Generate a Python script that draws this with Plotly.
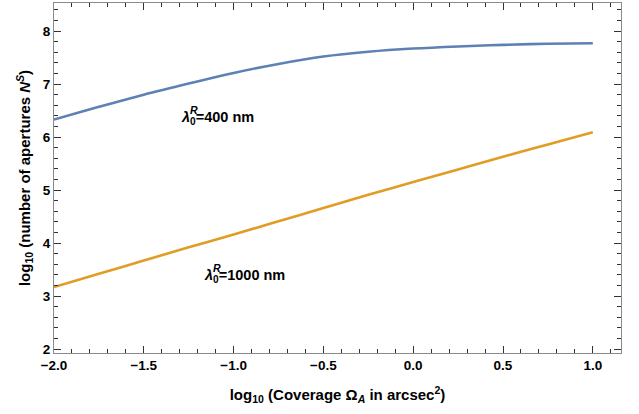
import plotly.graph_objects as go

# Data
x_vals = [-2.0, -1.75, -1.5, -1.25, -1.0, -0.75, -0.5, -0.25, 0.0, 0.25, 0.5, 0.75, 1.0]
y_400 = [6.33, 6.57, 6.80, 7.01, 7.21, 7.38, 7.52, 7.61, 7.67, 7.71, 7.74, 7.76, 7.77]
y_1000 = [3.17, 3.42, 3.67, 3.92, 4.16, 4.41, 4.66, 4.91, 5.15, 5.39, 5.63, 5.86, 6.09]

label_400 = ("λ", "=400 nm", -2 + (179 - 54) / 179.6, 6.36)
label_1000 = ("λ", "=1000 nm", -2 + (202 - 54) / 179.6, 3.37)

BLUE = "#5E81B5"
ORANGE = "#E19C24"
FONT = "Liberation Sans, Arial, sans-serif"

fig = go.Figure()
fig.add_trace(go.Scatter(x=x_vals, y=y_400, mode="lines",
                         line=dict(color=BLUE, width=2.6, shape="spline"),
                         showlegend=False, hoverinfo="skip"))
fig.add_trace(go.Scatter(x=x_vals, y=y_1000, mode="lines",
                         line=dict(color=ORANGE, width=2.6, shape="spline"),
                         showlegend=False, hoverinfo="skip"))

for lam, rest, lx, ly in (label_400, label_1000):
    fig.add_annotation(x=lx, y=ly, xref="x", yref="y", xanchor="left", yanchor="middle",
                       text=f"<i>{lam}</i><sub>0</sub>{rest}", showarrow=False,
                       font=dict(family=FONT, size=14.5, color="black", weight="bold"))
    fig.add_annotation(x=lx, y=ly, xref="x", yref="y", xanchor="left", yanchor="middle",
                       text="<i>R</i>", showarrow=False, xshift=9, yshift=8,
                       font=dict(family=FONT, size=10.5, color="black", weight="bold"))

axis_common = dict(
    showline=True, linecolor="#8a8a8a", linewidth=1, mirror="ticks",
    ticks="inside", ticklen=7, tickwidth=1, tickcolor="#333333",
    showgrid=False, zeroline=False, automargin=False,
    tickfont=dict(family=FONT, size=13.5, color="black", weight="bold"),
)

fig.update_xaxes(**axis_common, range=[-2.0, 1.157], tickmode="linear", tick0=0, dtick=0.5,
                 tickformat=".1f",
                 minor=dict(dtick=0.1, tick0=0, ticks="inside", ticklen=4, tickcolor="#333333", showgrid=False),
                 title=dict(text="log<sub>10</sub> (Coverage Ω<sub><i>A</i></sub> in arcsec<sup>2</sup>)",
                            font=dict(family=FONT, size=15, color="black", weight="bold"), standoff=17))
fig.update_yaxes(**axis_common, range=[1.925, 8.53], tickmode="linear", tick0=0, dtick=1,
                 minor=dict(dtick=0.2, tick0=0, ticks="inside", ticklen=4, tickcolor="#333333", showgrid=False),
                 title=dict(text="log<sub>10</sub> (number of apertures <i>N</i><sup><i>S</i></sup>)",
                            font=dict(family=FONT, size=15, color="black", weight="bold"), standoff=8))

fig.update_layout(width=639, height=414, margin=dict(l=54, r=18, t=3, b=61),
                  paper_bgcolor="white", plot_bgcolor="white")

fig.write_html("out.html", config={"displayModeBar": False},
               post_script="document.body.style.margin='0';document.body.style.overflow='hidden';")
